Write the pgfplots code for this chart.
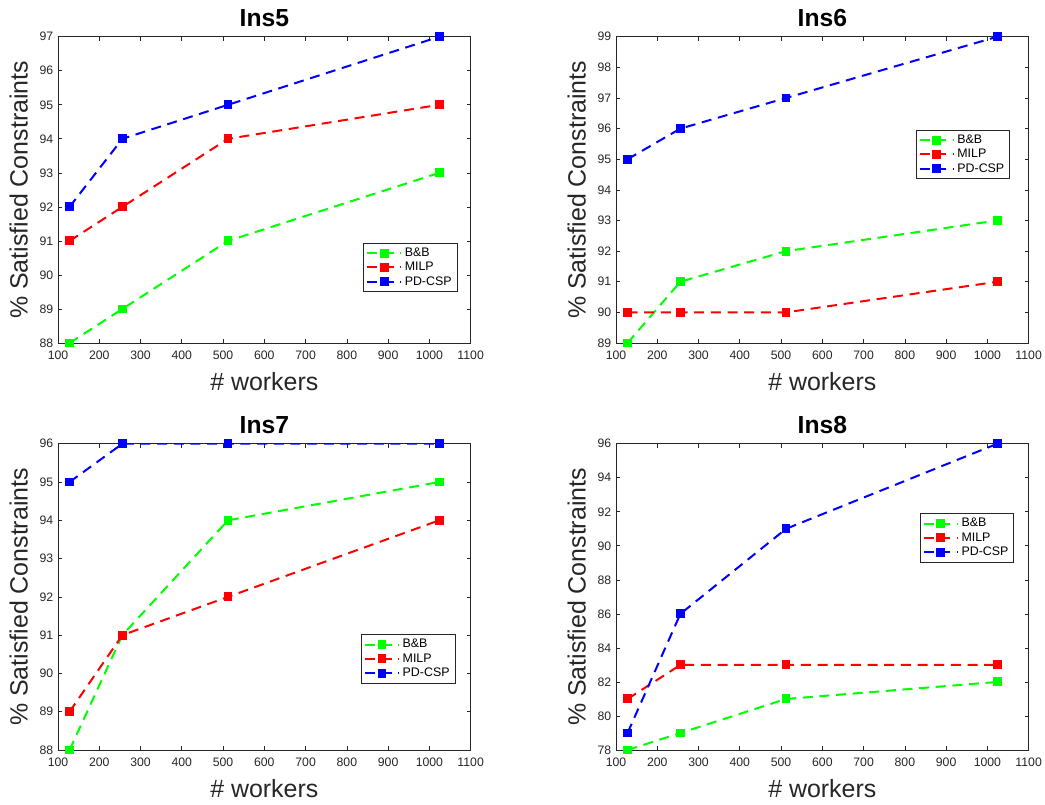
\documentclass[border=0pt]{standalone}
\usepackage{fontspec}
\setmainfont{Liberation Sans}
\usepackage{pgfplots}
\pgfplotsset{compat=1.18}
\definecolor{axgray}{gray}{0.15}
\pgfplotsset{
  myax/.style={
    scale only axis,
    width=309.5pt, height=229.7pt,
    xmin=100, xmax=1100,
    xtick={100,200,...,1100},
    tick align=inside,
    major tick length=3pt,
    axis line style={axgray, line width=0.5pt},
    every tick/.style={axgray, line width=0.5pt},
    /pgf/number format/assume math mode=true,
    /pgf/number format/1000 sep={},
    ticklabel style={font=\fontsize{9.2}{10}\selectfont, text=axgray},
    xticklabel style={yshift=-2.5pt},
    xlabel={\# workers},
    ylabel={\% Satisfied Constraints},
    label style={font=\fontsize{18.7}{20}\selectfont, text=axgray},
    xlabel style={at={(axis description cs:0.5,-0.127)}, anchor=center},
    ylabel style={at={(axis description cs:-0.095,0.5)}, anchor=center, rotate=0},
    every axis title shift=0pt,
    title style={font=\fontsize{18.5}{20}\selectfont\bfseries, at={(axis description cs:0.5,1.062)}, anchor=center},
    legend cell align=left,
    legend style={font=\fontsize{9.3}{10}\selectfont, draw=axgray, line width=0.5pt,
      inner xsep=2pt, inner ysep=1.5pt, row sep=-1.2pt},
    legend image code/.code={
      \draw[mark repeat=2, mark phase=2] plot coordinates {(0cm,0cm) (0.45cm,0cm) (0.9cm,0cm)};
    },
    every axis plot/.append style={line width=1.5pt, dash pattern=on 7.5pt off 5pt,
      mark=square*, mark size=2.6pt, mark options={solid, line width=0.5pt}},
  },
  bb/.style={green, mark options={fill=green, draw=green, solid}},
  mi/.style={red, mark options={fill=red, draw=red, solid}},
  pd/.style={blue, mark options={fill=blue, draw=blue, solid}},
}
\begin{document}
\begin{tikzpicture}
\path[use as bounding box] (0,0) rectangle (783.75pt,603pt);
% Ins5
\begin{axis}[myax, at={(43.5pt,345.75pt)}, anchor=south west,
  title={Ins5}, ymin=88, ymax=97, ytick={88,89,...,97},
  legend style={at={(axis description cs:0.739,0.327)}, anchor=north west}]
\addplot[bb] coordinates {(128,88) (256,89) (512,91) (1024,93)};
\addplot[mi] coordinates {(128,91) (256,92) (512,94) (1024,95)};
\addplot[pd] coordinates {(128,92) (256,94) (512,95) (1024,97)};
\legend{B\&B, MILP, PD-CSP}
\end{axis}
% Ins6
\begin{axis}[myax, at={(462pt,345.75pt)}, anchor=south west,
  title={Ins6}, ymin=89, ymax=99, ytick={89,90,...,99},
  legend style={at={(axis description cs:0.726,0.696)}, anchor=north west}]
\addplot[bb] coordinates {(128,89) (256,91) (512,92) (1024,93)};
\addplot[mi] coordinates {(128,90) (256,90) (512,90) (1024,91)};
\addplot[pd] coordinates {(128,95) (256,96) (512,97) (1024,99)};
\legend{B\&B, MILP, PD-CSP}
\end{axis}
% Ins7
\begin{axis}[myax, at={(43.5pt,40.5pt)}, anchor=south west,
  title={Ins7}, ymin=88, ymax=96, ytick={88,89,...,96},
  legend style={at={(axis description cs:0.734,0.378)}, anchor=north west}]
\addplot[bb] coordinates {(128,88) (256,91) (512,94) (1024,95)};
\addplot[mi] coordinates {(128,89) (256,91) (512,92) (1024,94)};
\addplot[pd] coordinates {(128,95) (256,96) (512,96) (1024,96)};
\legend{B\&B, MILP, PD-CSP}
\end{axis}
% Ins8
\begin{axis}[myax, at={(462pt,40.5pt)}, anchor=south west,
  title={Ins8}, ymin=78, ymax=96, ytick={78,80,...,96},
  legend style={at={(axis description cs:0.736,0.773)}, anchor=north west}]
\addplot[bb] coordinates {(128,78) (256,79) (512,81) (1024,82)};
\addplot[mi] coordinates {(128,81) (256,83) (512,83) (1024,83)};
\addplot[pd] coordinates {(128,79) (256,86) (512,91) (1024,96)};
\legend{B\&B, MILP, PD-CSP}
\end{axis}
\end{tikzpicture}
\end{document}
